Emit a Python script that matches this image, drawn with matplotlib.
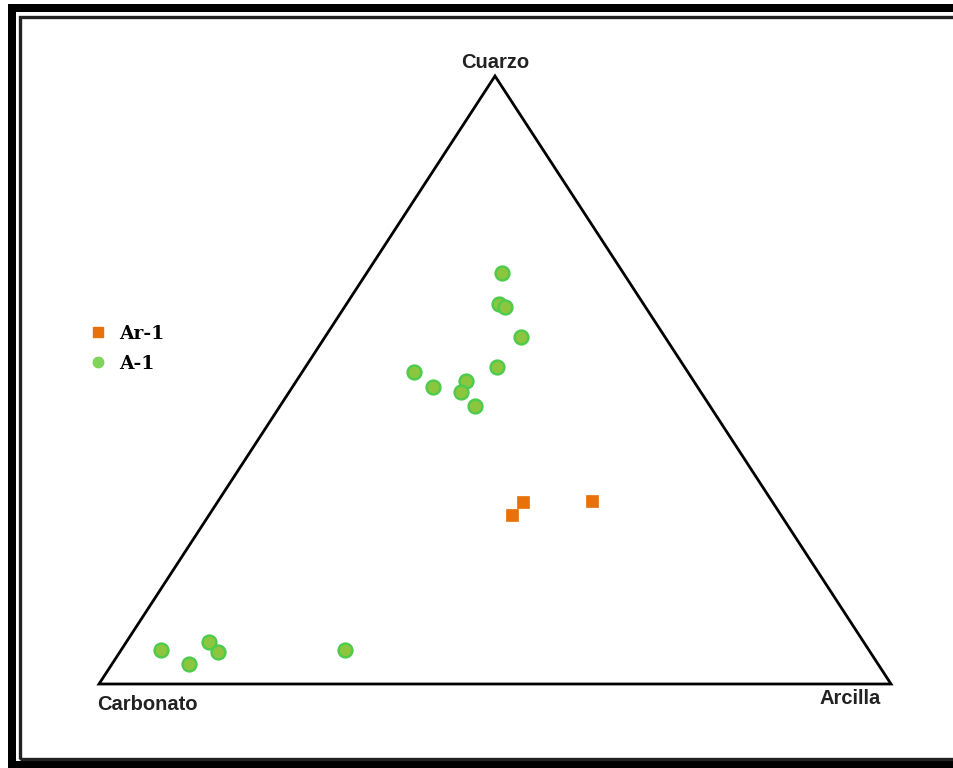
import matplotlib
matplotlib.use("Agg")
import matplotlib.pyplot as plt
from matplotlib.patches import Rectangle, Polygon
from matplotlib.lines import Line2D
import numpy as np

# Vertex labels of the ternary diagram
apex_labels = ["Cuarzo", "Carbonato", "Arcilla"]

# Composition (%) for each sample: cuarzo, carbonato, arcilla
a1_cuarzo = [67.6, 62.5, 62.0, 57.0, 52.1, 51.3, 48.8, 49.8, 48.1, 45.8, 5.6, 3.3, 6.9, 5.2, 5.6]
a1_carbonato = [15.3, 18.2, 17.7, 18.2, 23.7, 34.6, 33.4, 28.7, 30.3, 29.6, 89.4, 87.0, 82.7, 82.4, 66.2]
a1_arcilla = [17.1, 19.3, 20.3, 24.8, 24.2, 14.1, 17.8, 21.5, 21.6, 24.6, 5.0, 9.7, 10.4, 12.4, 28.2]

ar1_cuarzo = [29.9, 27.8, 30.1]
ar1_carbonato = [31.5, 34.0, 22.7]
ar1_arcilla = [38.6, 38.2, 47.2]

series_names = ["Ar-1", "A-1"]

W, H = 954, 768
fig = plt.figure(figsize=(W / 100, H / 100), dpi=100)


def fx(px):
    return px / W


def fy(py):
    return 1 - py / H


# Double frame around the figure
fig.patches.append(Rectangle((fx(8), fy(768)), fx(960 - 8), fy(4) - fy(768),
                             transform=fig.transFigure, facecolor="black",
                             edgecolor="none", zorder=-3))
fig.patches.append(Rectangle((fx(16), fy(761)), fx(960 - 16), fy(12) - fy(761),
                             transform=fig.transFigure, facecolor="white",
                             edgecolor="none", zorder=-2))
fig.patches.append(Rectangle((fx(20), fy(758.5)), fx(960 - 20), fy(17) - fy(758.5),
                             transform=fig.transFigure, facecolor="none",
                             edgecolor="#222222", linewidth=2.4, zorder=-1))

# Axes in which the triangle spans x 0..1 (Carbonato -> Arcilla) and y 0..1 (base -> Cuarzo)
ax = fig.add_axes([fx(99), fy(684), fx(891) - fx(99), fy(76) - fy(684)])
ax.set_zorder(5)
ax.set_xlim(0, 1)
ax.set_ylim(0, 1)
ax.axis("off")


def to_xy(q, c, r):
    q = np.asarray(q, float)
    c = np.asarray(c, float)
    r = np.asarray(r, float)
    s = q + c + r
    q, r = q / s, r / s
    return r + 0.5 * q, q


tri = Polygon([(0, 0), (1, 0), (0.5, 1)], closed=True, fill=False,
              edgecolor="black", linewidth=2.0, joinstyle="miter", clip_on=False, zorder=2)
ax.add_patch(tri)

label_kw = dict(fontfamily="Liberation Sans", fontweight="bold", fontsize=14.5,
                color="#222222", transform=fig.transFigure)
fig.text(fx(495), fy(62), apex_labels[0], ha="center", va="center", **label_kw)
fig.text(fx(147), fy(704), apex_labels[1], ha="center", va="center", **label_kw)
fig.text(fx(850), fy(699), apex_labels[2], ha="center", va="center", **label_kw)

green_face = "#8cc63f"
green_edge = "#4ccb4c"
orange = "#e8710a"

x, y = to_xy(a1_cuarzo, a1_carbonato, a1_arcilla)
ax.scatter(x, y, s=100, marker="o", facecolor=green_face, edgecolor=green_edge,
           linewidth=1.7, clip_on=False, zorder=3)
x, y = to_xy(ar1_cuarzo, ar1_carbonato, ar1_arcilla)
ax.scatter(x, y, s=76, marker="s", facecolor=orange, edgecolor=orange,
           linewidth=0.5, clip_on=False, zorder=3)

handles = [
    Line2D([], [], linestyle="none", marker="s", markersize=7.5,
           markerfacecolor=orange, markeredgecolor=orange),
    Line2D([], [], linestyle="none", marker="o", markersize=7.5,
           markerfacecolor="#7fd45a", markeredgecolor="#7fd45a"),
]
leg = fig.legend(handles, series_names, loc="upper left",
                 bbox_to_anchor=(fx(89), fy(325)), frameon=False,
                 prop=dict(family="DejaVu Serif", weight="bold", size=13.5),
                 handlelength=1.0, handletextpad=0.6, labelspacing=0.62,
                 borderpad=0.0, borderaxespad=0.0)

fig.savefig("out.png", dpi=100)
